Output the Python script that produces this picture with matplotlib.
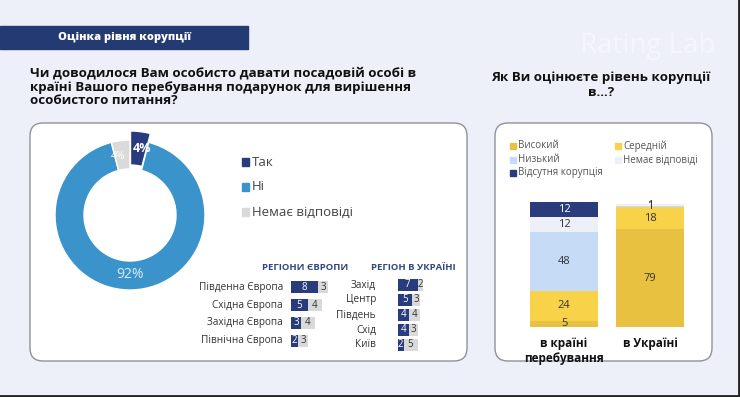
import numpy as np
import matplotlib
matplotlib.use('Agg')
import matplotlib.pyplot as plt
from matplotlib.patches import FancyBboxPatch, Rectangle

plt.rcParams['font.family'] = ['Open Sans', 'DejaVu Sans']

W, H = 740, 397

# donut
donut_labels = ['Так', 'Ні', 'Немає відповіді']
donut_values = [4, 92, 4]
donut_colors = ['#273b7d', '#3a94cb', '#dadada']

# regions
eu_regions = ['Південна Європа', 'Східна Європа', 'Західна Європа', 'Північна Європа']
eu_yes = [8, 5, 3, 2]
eu_na = [3, 4, 4, 3]
ua_regions = ['Захід', 'Центр', 'Південь', 'Схід', 'Київ']
ua_yes = [7, 5, 4, 4, 2]
ua_na = [2, 3, 4, 3, 5]

# corruption level
places = ['в країні\nперебування', 'в Україні']
levels = ['Високий', 'Середній', 'Низький', 'Немає відповіді', 'Відсутня корупція']
level_colors = ['#e8c140', '#f8d249', '#c6dcf6', '#edf0f7', '#2a3c7c']
level_values = {
    'Високий': [5, 79],
    'Середній': [24, 18],
    'Низький': [48, 1],
    'Немає відповіді': [12, 1],
    'Відсутня корупція': [12, 0],
}


def px_axes(fig, x0, y0, w, h):
    return fig.add_axes([x0 / W, 1 - (y0 + h) / H, w / W, h / H])


fig = plt.figure(figsize=(W / 100, H / 100), dpi=100)
fig.patch.set_facecolor('#edf0f8')

bg = fig.add_axes([0, 0, 1, 1])
bg.set_xlim(0, W)
bg.set_ylim(H, 0)
bg.axis('off')

# watermark
bg.text(580, 46, 'Rating Lab', fontsize=20, color='white', alpha=0.45, va='center')

# title banner
bg.add_patch(Rectangle((0, 26), 248, 23, color='#243a73'))
bg.text(124, 37.5, 'Оцінка рівня корупції', color='white', fontsize=8,
        fontweight='heavy', ha='center', va='center')

q1 = ['Чи доводилося Вам особисто давати посадовій особі в',
      'країні Вашого перебування подарунок для вирішення',
      'особистого питання?']
for i, line in enumerate(q1):
    bg.text(30, 73 + i * 14, line, fontsize=9.6, fontweight='bold', color='#111111', va='center')

q2 = ['Як Ви оцінюєте рівень корупції', 'в...?']
for i, line in enumerate(q2):
    bg.text(601, 77 + i * 16, line, fontsize=9.6, fontweight='bold', color='#111111',
            va='center', ha='center')

# panels
for x0, x1 in [(30, 467), (495, 712)]:
    bg.add_patch(FancyBboxPatch((x0, 123), x1 - x0, 238,
                                boxstyle='round,pad=0,rounding_size=13',
                                fc='white', ec='#8d929c', lw=1.0))

# dark frame edges
bg.plot([738.5, 738.5], [0, H], color='#222222', lw=2)
bg.plot([0, W], [395.5, 395.5], color='#222222', lw=2)

# donut legend
for i, (lab, col) in enumerate(zip(donut_labels, donut_colors)):
    y = 162 + i * 25
    bg.add_patch(Rectangle((242, y - 4), 7, 8, color=col))
    bg.text(252, y, lab, fontsize=9.5, color='#444444', va='center')

# right legend
leg_pos = [(510, 146), (615, 146), (510, 160), (615, 160), (510, 173)]
for (x, y), lab, col in zip(leg_pos, levels, level_colors):
    bg.add_patch(Rectangle((x, y - 3), 6, 6, color=col))
    bg.text(x + 8, y, lab, fontsize=7, color='#555555', va='center')

# donut chart
ax = px_axes(fig, 45, 130, 170, 170)
wedges, _, autotexts = ax.pie(donut_values, colors=donut_colors, startangle=90, counterclock=False,
                              radius=75, explode=[4, 0, 0], autopct='%d%%', pctdistance=0.8,
                              wedgeprops=dict(width=29, edgecolor='white', linewidth=1))
ax.set_xlim(-85, 85)
ax.set_ylim(-85, 85)
ax.set_aspect('equal')
ax.axis('off')
wedges[0].set_radius(80)
wedges[0].set_width(34)

# small slice labels pushed apart a bit
for t, w, r, shift in [(autotexts[0], wedges[0], 68, -3), (autotexts[2], wedges[2], 60, 4)]:
    ang = np.deg2rad((w.theta1 + w.theta2) / 2 + shift)
    t.set_position((r * np.cos(ang), r * np.sin(ang)))
autotexts[0].set_color('white')
autotexts[0].set_fontweight('bold')
autotexts[0].set_fontsize(9)
autotexts[1].set_color('#dcecf8')
autotexts[1].set_fontsize(10)
autotexts[2].set_color('white')
autotexts[2].set_fontsize(7.5)

# region headers
bg.text(305, 267, 'РЕГІОНИ ЄВРОПИ', fontsize=6.8, fontweight='bold', color='#34467f', ha='center', va='center')
bg.text(413, 267, 'РЕГІОН В УКРАЇНІ', fontsize=6.8, fontweight='bold', color='#34467f', ha='center', va='center')


def region_bars(ax, names, yes, na, label_x, bar_h):
    ys = range(len(names))
    ax.barh(ys, yes, height=bar_h, color='#273b7d')
    ax.barh(ys, na, left=yes, height=bar_h, color='#d9d9d9')
    for y, n, a, b in zip(ys, names, yes, na):
        ax.text(label_x, y, n, ha='right', va='center', fontsize=7.2, color='#333333')
        ax.text(a / 2, y, str(a), ha='center', va='center', fontsize=7, color='white')
        ax.text(a + b / 2, y, str(b), ha='center', va='center', fontsize=7, color='#333333')
    ax.axis('off')


ax_eu = px_axes(fig, 291, 279, 60, 70)
ax_eu.set_xlim(0, 60 / 3.4)
ax_eu.set_ylim(3.45, -0.45)
region_bars(ax_eu, eu_regions, eu_yes, eu_na, -2.4, 0.68)

ax_ua = px_axes(fig, 398, 277, 40, 75)
ax_ua.set_xlim(0, 40 / 2.8)
ax_ua.set_ylim(4.47, -0.53)
region_bars(ax_ua, ua_regions, ua_yes, ua_na, -7.9, 0.75)

# stacked bars
ax_s = px_axes(fig, 520, 195, 175, 135)
ax_s.set_facecolor('none')
ax_s.set_xlim(-0.512, 1.523)
ax_s.set_ylim(-2.42, 106.66)
xs = range(len(places))
bottoms = [0] * len(places)
for lev, col in zip(levels, level_colors):
    vals = level_values[lev]
    ax_s.bar(xs, vals, bottom=bottoms, width=0.78, color=col)
    for x, v, b in zip(xs, vals, bottoms):
        if v > 0:
            tc = 'white' if lev == 'Відсутня корупція' else '#333333'
            ax_s.text(x, b + v / 2, str(v), ha='center', va='center', fontsize=8, color=tc)
    bottoms = [b + v for b, v in zip(bottoms, vals)]
ax_s.set_xticks(list(xs))
ax_s.set_xticklabels(places, fontsize=8.5, fontweight='bold', color='#111111')
ax_s.tick_params(axis='x', length=0, pad=5)
ax_s.set_yticks([])
for s in ax_s.spines.values():
    s.set_visible(False)

fig.savefig('out.png', dpi=100, facecolor=fig.get_facecolor())
